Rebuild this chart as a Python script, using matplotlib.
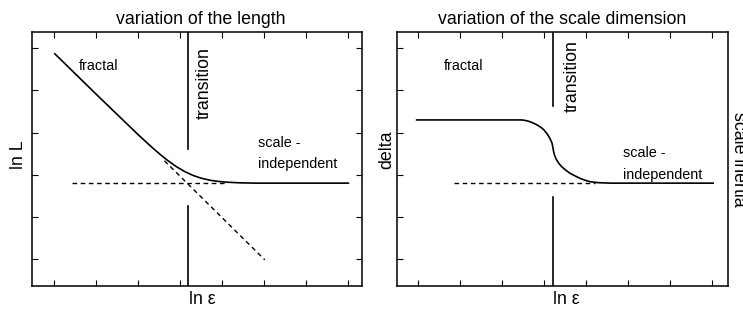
import matplotlib
matplotlib.use("Agg")
import matplotlib.pyplot as plt

plt.rcParams['font.family'] = ['Liberation Sans', 'DejaVu Sans']

# ---- data ----
x_ticks = [0, 1, 2, 3, 4, 5, 6, 7]
y_ticks = [0, 1, 2, 3, 4, 5]

# left panel: ln L vs ln eps
len_x = [0.01, 1.0, 2.0, 2.3, 2.5, 2.7, 2.9, 3.1, 3.3, 3.5, 3.7, 3.9, 4.1, 4.4, 4.8, 7.0]
len_y = [4.87, 3.905, 2.945, 2.67, 2.497, 2.336, 2.194, 2.076, 1.983, 1.916, 1.870, 1.841, 1.823, 1.808, 1.80, 1.80]
len_asym_x = [2.62, 5.01]
len_asym_y = [2.33, -0.02]
len_flat_x = [0.41, 4.10]
len_flat_y = [1.80, 1.80]
len_trans_x = 3.17
len_trans_upper = [5.38, 2.60]
len_trans_lower = [1.265, -0.634]

# right panel: delta vs ln eps
dim_x = [-0.03, 2.47, 2.57, 2.665, 2.78, 2.903, 2.99, 3.062, 3.11, 3.157, 3.19, 3.205, 3.22,
         3.236, 3.26, 3.30, 3.35, 3.419, 3.5, 3.616, 3.72, 3.853, 3.97, 4.091, 4.289, 4.6, 7.02]
dim_y = [3.30, 3.30, 3.285, 3.258, 3.21, 3.140, 3.07, 2.983, 2.91, 2.824, 2.745, 2.665, 2.585,
         2.508, 2.43, 2.349, 2.27, 2.190, 2.12, 2.034, 1.98, 1.915, 1.87, 1.835, 1.811, 1.80, 1.80]
dim_flat_x = [0.86, 4.2]
dim_flat_y = [1.80, 1.80]
dim_trans_x = 3.21
dim_trans_upper = [5.38, 3.63]
dim_trans_lower = [1.478, -0.634]

fig = plt.figure(figsize=(7.43, 3.09), dpi=100)
ax1 = fig.add_axes([31.8 / 743, (309 - 285.7) / 309, (362.3 - 31.8) / 743, (285.7 - 32.3) / 309])
ax2 = fig.add_axes([396.8 / 743, (309 - 285.7) / 309, (727.8 - 396.8) / 743, (285.7 - 32.3) / 309])

dash = (3.3, 2.6)
lw = 1.2
big = 12.8
small = 10.4

for ax in (ax1, ax2):
    ax.set_ylim(-0.634, 5.38)
    ax.set_xticks(x_ticks)
    ax.set_yticks(y_ticks)
    ax.set_xticklabels([])
    ax.set_yticklabels([])
    ax.tick_params(direction='in', length=4.5, width=0.8, top=True, right=True,
                   bottom=True, left=True)
    for s in ax.spines.values():
        s.set_linewidth(1.1)

ax1.set_xlim(-0.538, 7.331)
ax2.set_xlim(-0.502, 7.368)

# left panel
ax1.plot(len_x, len_y, color='black', lw=lw)
ax1.plot(len_asym_x, len_asym_y, color='black', lw=1.0, dashes=dash)
ax1.plot(len_flat_x, len_flat_y, color='black', lw=1.0, dashes=dash)
ax1.plot([len_trans_x] * 2, len_trans_upper, color='black', lw=lw)
ax1.plot([len_trans_x] * 2, len_trans_lower, color='black', lw=lw)
ax1.text(0.57, 4.485, 'fractal', fontsize=small, ha='left', va='baseline')
ax1.text(3.664, 4.169, 'transition', fontsize=big, rotation=90, rotation_mode='anchor',
         ha='center', va='baseline')
ax1.text(4.836, 2.665, 'scale -', fontsize=small, ha='left', va='baseline')
ax1.text(4.836, 2.16, 'independent', fontsize=small, ha='left', va='baseline')
ax1.set_title('variation of the length', fontsize=big, x=0.51, pad=6)
ax1.set_xlabel('ln ε', fontsize=big)
ax1.xaxis.set_label_coords(0.515, -0.02)
ax1.set_ylabel('ln L', fontsize=big)
ax1.yaxis.set_label_coords(-0.0145, 0.516)

# right panel
ax2.plot(dim_x, dim_y, color='black', lw=lw)
ax2.plot(dim_flat_x, dim_flat_y, color='black', lw=1.0, dashes=dash)
ax2.plot([dim_trans_x] * 2, dim_trans_upper, color='black', lw=lw)
ax2.plot([dim_trans_x] * 2, dim_trans_lower, color='black', lw=lw)
ax2.text(0.62, 4.485, 'fractal', fontsize=small, ha='left', va='baseline')
ax2.text(3.776, 4.347, 'transition', fontsize=big, rotation=90, rotation_mode='anchor',
         ha='center', va='baseline')
ax2.text(4.884, 2.428, 'scale -', fontsize=small, ha='left', va='baseline')
ax2.text(4.884, 1.90, 'independent', fontsize=small, ha='left', va='baseline')
ax2.set_title('variation of the scale dimension', fontsize=big, pad=6)
ax2.set_xlabel('ln ε', fontsize=big)
ax2.xaxis.set_label_coords(0.511, -0.02)
ax2.set_ylabel('delta', fontsize=big)
ax2.yaxis.set_label_coords(-0.004, 0.5355)

# right-hand label of the right panel (clipped by figure edge in reference)
ax2r = ax2.twinx()
ax2r.set_ylim(ax2.get_ylim())
ax2r.set_yticks([])
ax2r.set_ylabel('scale inertia', fontsize=big, rotation=270, va='bottom')
ax2r.yaxis.set_label_coords(1.008, 0.5)
for s in ax2r.spines.values():
    s.set_visible(False)

fig.savefig('out.png', dpi=100)
